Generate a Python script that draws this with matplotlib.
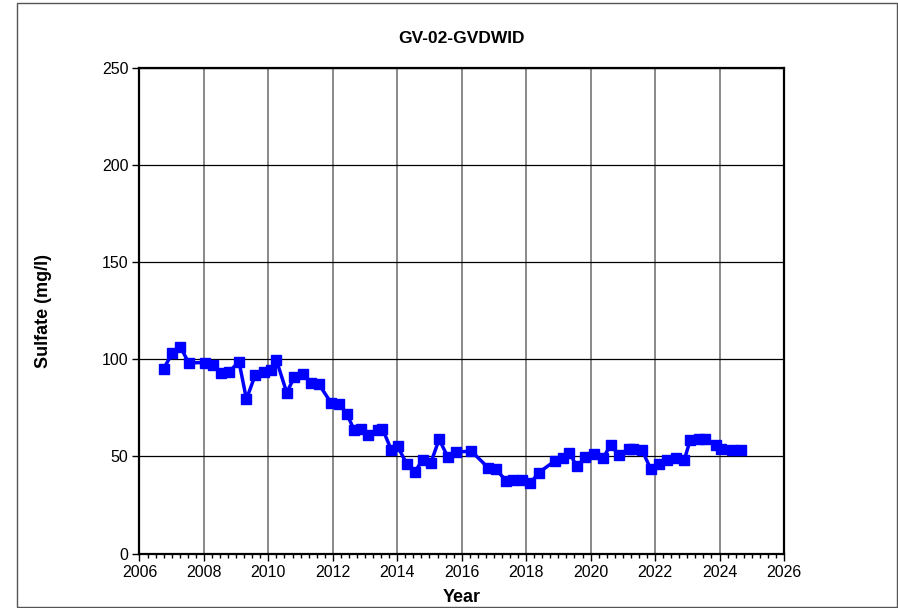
import matplotlib
matplotlib.use("Agg")
import matplotlib.pyplot as plt
from matplotlib.patches import Rectangle
from matplotlib.ticker import MultipleLocator
import numpy as np

plt.rcParams['font.family'] = ['Liberation Sans', 'DejaVu Sans']

# 采样时间(年, 小数) 与 硫酸盐浓度
years = [2006.75, 2007.02, 2007.27, 2007.53, 2008.02, 2008.28, 2008.52, 2008.77,
         2009.09, 2009.32, 2009.59, 2009.85, 2010.08, 2010.25, 2010.57, 2010.80,
         2011.06, 2011.32, 2011.57, 2011.94, 2012.20, 2012.44, 2012.67, 2012.87,
         2013.10, 2013.39, 2013.54, 2013.81, 2014.01, 2014.30, 2014.54, 2014.79,
         2015.04, 2015.30, 2015.57, 2015.83, 2016.30, 2016.83, 2017.06, 2017.38,
         2017.58, 2017.87, 2018.13, 2018.39, 2018.90, 2019.15, 2019.33, 2019.58,
         2019.84, 2020.10, 2020.39, 2020.62, 2020.88, 2021.19, 2021.32, 2021.60,
         2021.86, 2022.12, 2022.38, 2022.64, 2022.90, 2023.09, 2023.35, 2023.55,
         2023.88, 2024.06, 2024.40, 2024.66]
sulfate = [95.2, 103.0, 106.3, 98.1, 98.3, 97.0, 93.1, 93.5,
           98.6, 79.4, 91.8, 93.3, 94.7, 99.5, 82.8, 90.6,
           92.6, 87.5, 87.1, 77.7, 77.2, 71.6, 63.4, 64.1,
           61.2, 63.4, 64.3, 53.5, 55.2, 45.9, 41.9, 48.3,
           46.6, 58.8, 49.6, 52.2, 52.7, 44.0, 43.3, 37.5,
           37.6, 37.6, 36.2, 41.6, 47.8, 49.3, 51.9, 44.8,
           49.6, 51.0, 49.3, 55.7, 50.9, 53.6, 53.6, 53.1,
           43.7, 46.2, 47.9, 49.3, 47.9, 58.2, 59.0, 59.0,
           55.7, 54.0, 53.4, 53.2]

fig = plt.figure(figsize=(8.98, 6.08), dpi=100)
ax = fig.add_axes([0.1553, 0.0896, 0.7177, 0.799])

# 外框
fig.patches.append(Rectangle((17 / 898, 1 / 608), 880 / 898, 604 / 608,
                             transform=fig.transFigure, fill=False,
                             edgecolor='#555555', linewidth=1.0))

ax.plot(years, sulfate, color='#0000FF', linewidth=2.5, marker='s',
        markersize=7.5, markerfacecolor='#0000FF', markeredgecolor='#0000FF',
        zorder=3)

ax.set_xlim(2006, 2026)
ax.set_ylim(0, 250)
ax.set_xticks(np.arange(2006, 2027, 2))
ax.set_yticks(np.arange(0, 251, 50))
ax.xaxis.set_minor_locator(MultipleLocator(0.25))

ax.xaxis.grid(True, which='major', color='#808080', linewidth=1.3)
ax.yaxis.grid(True, which='major', color='black', linewidth=0.9)
ax.set_axisbelow(True)

for s in ax.spines.values():
    s.set_linewidth(1.6)
    s.set_color('black')

ax.tick_params(axis='both', which='major', direction='out', length=5,
               width=1, labelsize=11.5, pad=3)
ax.tick_params(axis='x', which='minor', direction='out', length=3, width=1)

ax.set_title('GV-02-GVDWID', fontsize=12.5, fontweight='bold', pad=18)
ax.set_xlabel('Year', fontsize=13, fontweight='bold', labelpad=7)
ax.set_ylabel('Sulfate (mg/l)', fontsize=13, fontweight='bold', labelpad=36)

plt.savefig('out.png', dpi=100)
